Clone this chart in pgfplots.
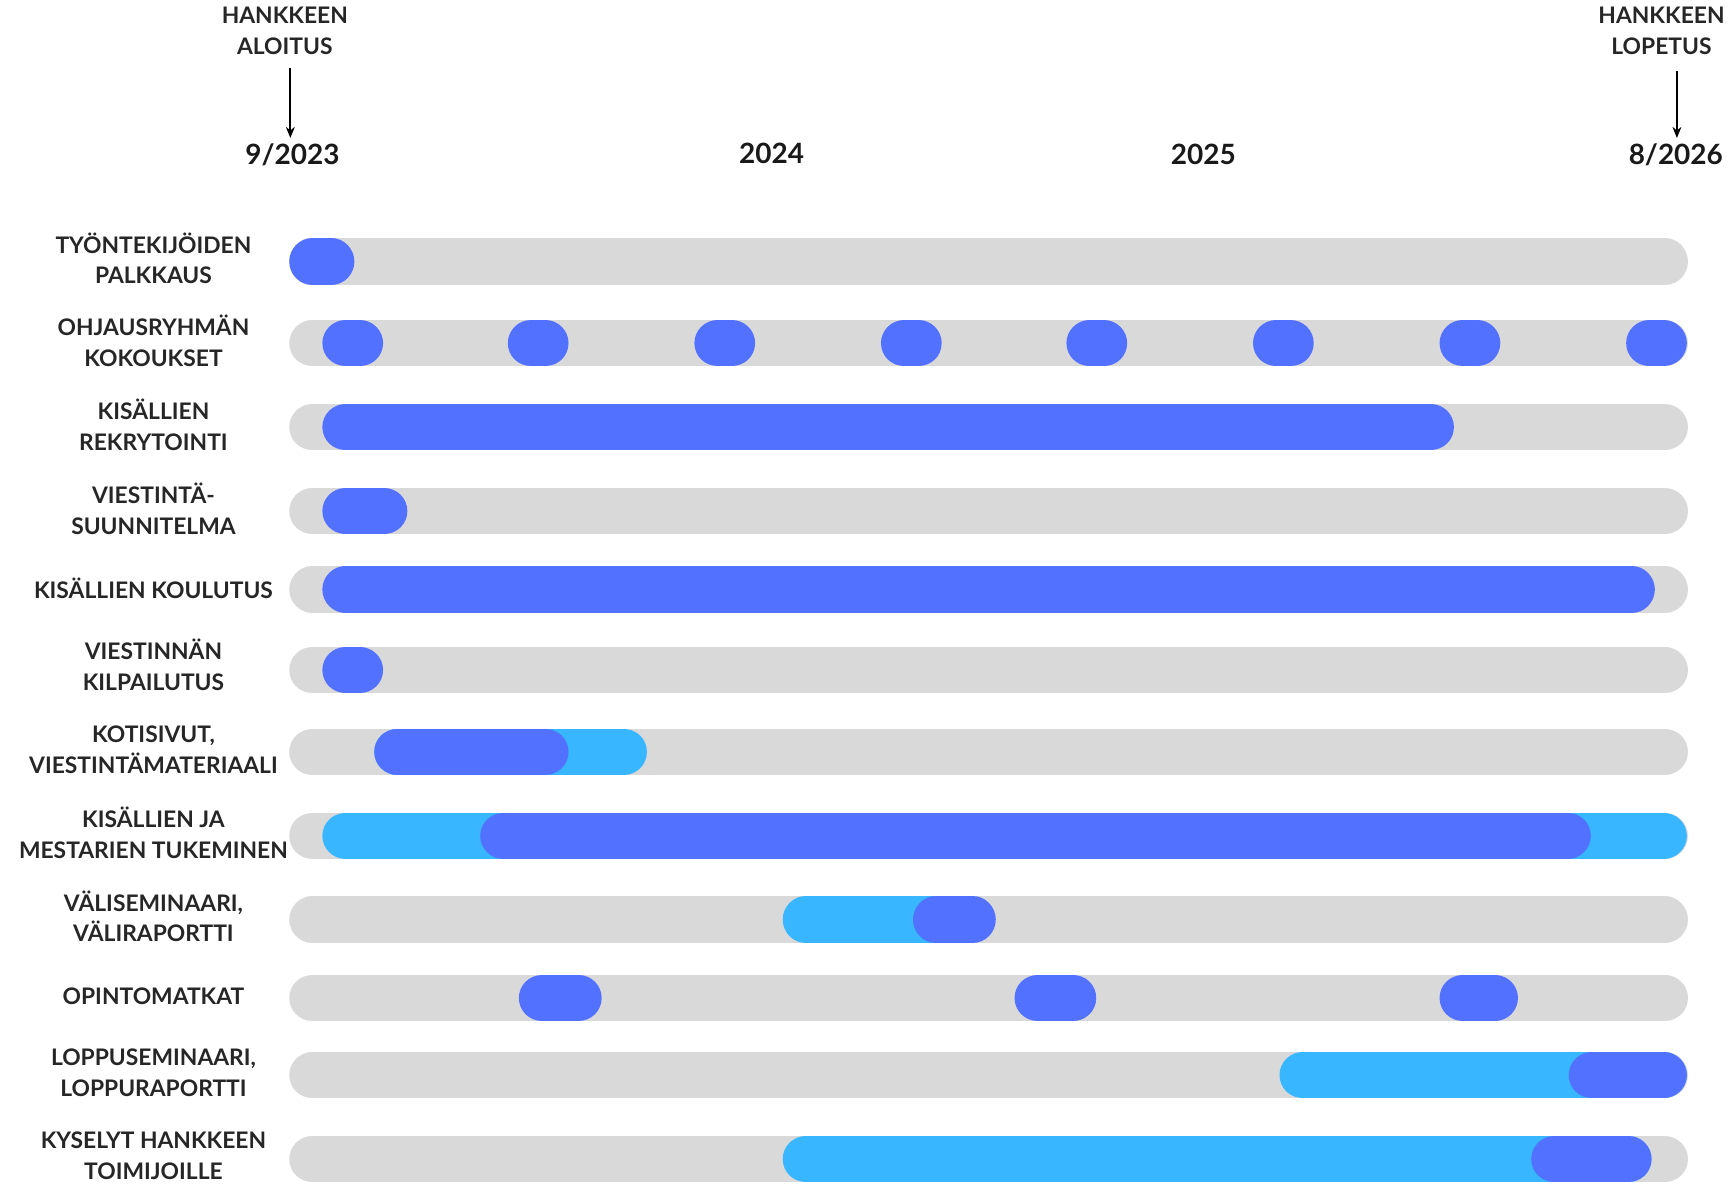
\documentclass[border=0pt]{standalone}
\usepackage{fontspec}
\setmainfont{Lato}
\usepackage{pgfplots}
\pgfplotsset{compat=1.18}
\usetikzlibrary{arrows.meta}
\definecolor{trk}{HTML}{D9D9D9}
\definecolor{dblue}{HTML}{5271FF}
\definecolor{lblue}{HTML}{38B6FF}
\tikzset{
  bar/.style={line width=12.6pt, line cap=round, shorten <=6.3pt, shorten >=6.3pt},
  lab/.style={font=\bfseries\fontsize{6.2}{8.4}\selectfont, align=center, text=black!85, inner sep=0pt},
  yr/.style={font=\bfseries\fontsize{7.6}{9}\selectfont, text=black!90, inner sep=0pt},
}
\begin{document}
\begin{tikzpicture}
\begin{axis}[
  width=470.4pt, height=322.2pt, scale only axis,
  xmin=0, xmax=1568, ymin=0, ymax=1074, y dir=reverse,
  hide axis, clip=false,
]
% track backgrounds
\foreach \y in {237,311,387,463,534,607,681,757,833,904,974,1050}{
  \edef\temp{\noexpand\addplot[bar, trk, mark=none] coordinates {(262,\y) (1529,\y)};}
  \temp
}
% row 1
\addplot[bar, dblue, mark=none] coordinates {(262,237) (321,237)};
% row 2 meetings
\addplot[bar, dblue, mark=none] coordinates {(292,311) (347,311)};
\addplot[bar, dblue, mark=none] coordinates {(460,311) (515,311)};
\addplot[bar, dblue, mark=none] coordinates {(629,311) (684,311)};
\addplot[bar, dblue, mark=none] coordinates {(798,311) (853,311)};
\addplot[bar, dblue, mark=none] coordinates {(966,311) (1021,311)};
\addplot[bar, dblue, mark=none] coordinates {(1135,311) (1190,311)};
\addplot[bar, dblue, mark=none] coordinates {(1304,311) (1359,311)};
\addplot[bar, dblue, mark=none] coordinates {(1473,311) (1528,311)};
% row 3
\addplot[bar, dblue, mark=none] coordinates {(292,387) (1317,387)};
% row 4
\addplot[bar, dblue, mark=none] coordinates {(292,463) (369,463)};
% row 5
\addplot[bar, dblue, mark=none] coordinates {(292,534) (1499,534)};
% row 6
\addplot[bar, dblue, mark=none] coordinates {(292,607) (347,607)};
% row 7
\addplot[bar, lblue, mark=none] coordinates {(339,681) (586,681)};
\addplot[bar, dblue, mark=none] coordinates {(339,681) (515,681)};
% row 8
\addplot[bar, lblue, mark=none] coordinates {(292,757) (1528,757)};
\addplot[bar, dblue, mark=none] coordinates {(435,757) (1441,757)};
% row 9
\addplot[bar, lblue, mark=none] coordinates {(709,833) (870,833)};
\addplot[bar, dblue, mark=none] coordinates {(827,833) (902,833)};
% row 10
\addplot[bar, dblue, mark=none] coordinates {(470,904) (545,904)};
\addplot[bar, dblue, mark=none] coordinates {(919,904) (993,904)};
\addplot[bar, dblue, mark=none] coordinates {(1304,904) (1375,904)};
% row 11
\addplot[bar, lblue, mark=none] coordinates {(1159,974) (1528,974)};
\addplot[bar, dblue, mark=none] coordinates {(1421,974) (1528,974)};
% row 12
\addplot[bar, lblue, mark=none] coordinates {(709,1050) (1496,1050)};
\addplot[bar, dblue, mark=none] coordinates {(1387,1050) (1496,1050)};
% arrows
\addplot[-{Stealth[length=3pt,width=2.4pt]}, line width=0.5pt, black, mark=none] coordinates {(263,62) (263,125)};
\addplot[-{Stealth[length=3pt,width=2.4pt]}, line width=0.5pt, black, mark=none] coordinates {(1519,64) (1519,125)};
% top labels
\node[lab] at (axis cs:258,28) {HANKKEEN\\ALOITUS};
\node[lab] at (axis cs:1505,28) {HANKKEEN\\LOPETUS};
\node[yr] at (axis cs:265,140) {9/2023};
\node[yr] at (axis cs:699,139) {2024};
\node[yr] at (axis cs:1090,140) {2025};
\node[yr] at (axis cs:1518,140) {8/2026};
% row labels
\node[lab] at (axis cs:139,234) {TYÖNTEKIJÖIDEN\\PALKKAUS};
\node[lab] at (axis cs:139,309) {OHJAUSRYHMÄN\\KOKOUKSET};
\node[lab] at (axis cs:139,385) {KISÄLLIEN\\REKRYTOINTI};
\node[lab] at (axis cs:139,461) {VIESTINTÄ-\\SUUNNITELMA};
\node[lab] at (axis cs:139,533) {KISÄLLIEN KOULUTUS};
\node[lab] at (axis cs:139,602) {VIESTINNÄN\\KILPAILUTUS};
\node[lab] at (axis cs:139,679) {KOTISIVUT,\\VIESTINTÄMATERIAALI};
\node[lab] at (axis cs:139,754) {KISÄLLIEN JA\\MESTARIEN TUKEMINEN};
\node[lab] at (axis cs:139,830) {VÄLISEMINAARI,\\VÄLIRAPORTTI};
\node[lab] at (axis cs:139,902) {OPINTOMATKAT};
\node[lab] at (axis cs:139,972) {LOPPUSEMINAARI,\\LOPPURAPORTTI};
\node[lab] at (axis cs:139,1047) {KYSELYT HANKKEEN\\TOIMIJOILLE};
\path (rel axis cs:0,0) rectangle (rel axis cs:1,1);
\end{axis}
\end{tikzpicture}
\end{document}
